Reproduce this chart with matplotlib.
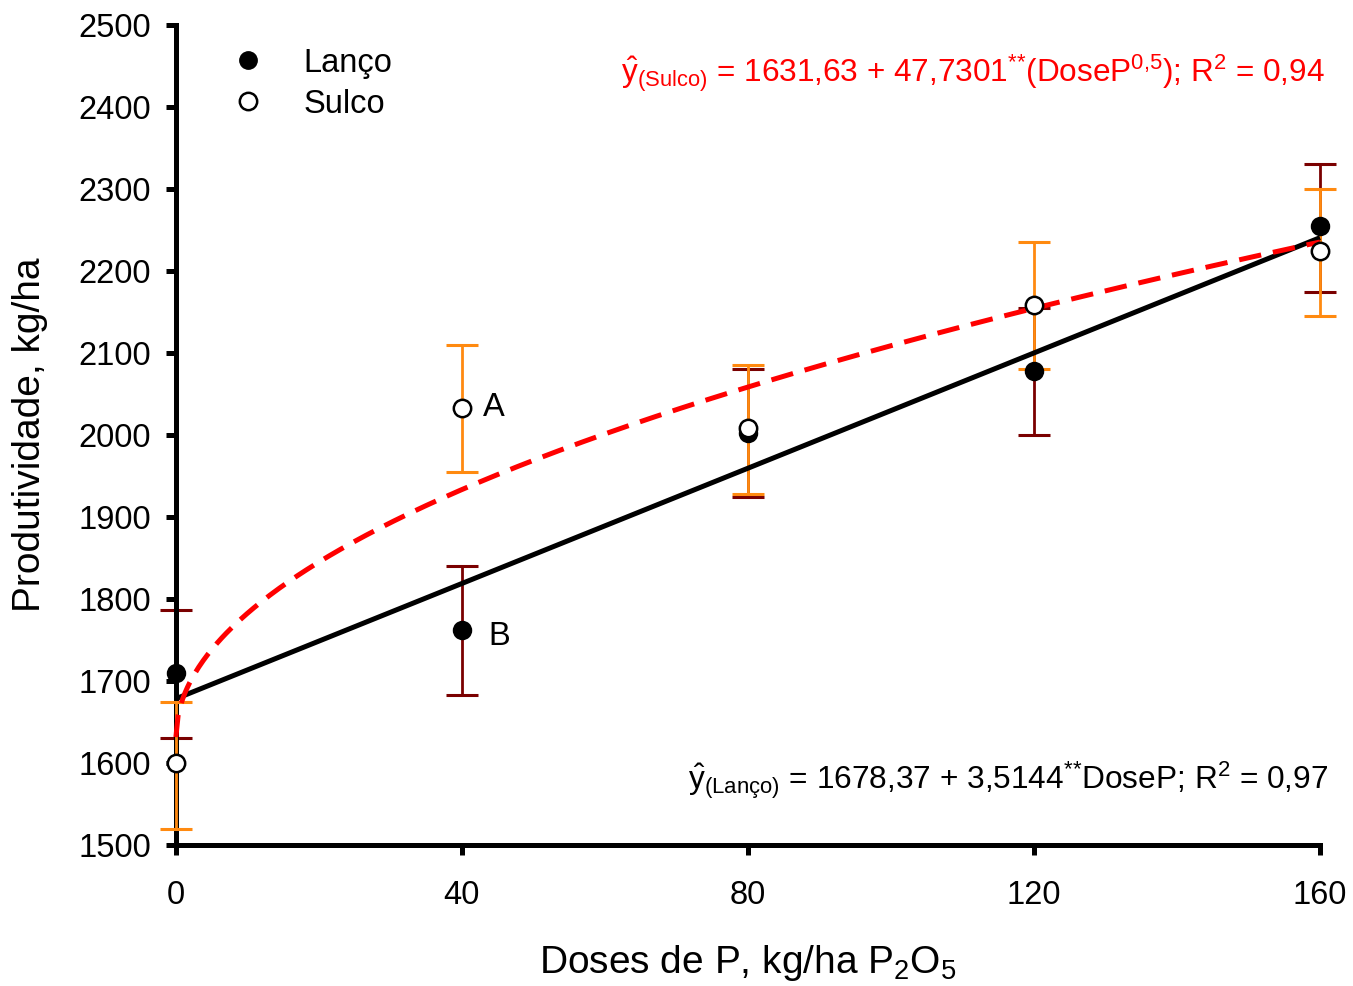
import numpy as np
import matplotlib
matplotlib.use("Agg")
import matplotlib.pyplot as plt
from matplotlib.lines import Line2D

plt.rcParams['font.family'] = ['Liberation Sans', 'DejaVu Sans']
plt.rcParams['mathtext.fontset'] = 'custom'
plt.rcParams['mathtext.rm'] = 'Liberation Sans'
plt.rcParams['mathtext.it'] = 'Liberation Sans:italic'
plt.rcParams['mathtext.bf'] = 'Liberation Sans:bold'

# data
doses = [0, 40, 80, 120, 160]
lanco = [1710, 1762, 2003, 2078, 2255]
lanco_lo = [1630, 1683, 1925, 2000, 2175]
lanco_hi = [1787, 1840, 2080, 2155, 2330]
sulco = [1600, 2033, 2008, 2158, 2225]
sulco_lo = [1520, 1955, 1928, 2080, 2145]
sulco_hi = [1675, 2110, 2085, 2235, 2300]

# regression coefficients printed on the chart
lanco_a, lanco_b = 1678.37, 3.5144
sulco_a, sulco_b = 1631.63, 47.7301

col_lanco_err = "#7a0000"
col_sulco_err = "#ff8a10"

fig = plt.figure(figsize=(13.53, 9.86), dpi=100)
ax = fig.add_axes([0.130, 0.143, 0.8456, 0.8316])

lanco_err = [np.array(lanco) - np.array(lanco_lo), np.array(lanco_hi) - np.array(lanco)]
sulco_err = [np.array(sulco) - np.array(sulco_lo), np.array(sulco_hi) - np.array(sulco)]

eb1 = ax.errorbar(doses, lanco, yerr=lanco_err, fmt='none', ecolor=col_lanco_err,
                  elinewidth=2, capsize=11.5, capthick=2.2, zorder=2)
eb2 = ax.errorbar(doses, sulco, yerr=sulco_err, fmt='none', ecolor=col_sulco_err,
                  elinewidth=2, capsize=11.5, capthick=2.2, zorder=3)
for eb in (eb1, eb2):
    for part in eb.lines[1] + eb.lines[2]:
        part.set_clip_on(False)

xs = np.linspace(0, 160, 500)
ax.plot(xs, lanco_a + lanco_b * xs, color='black', lw=3.6, zorder=4,
        solid_capstyle='butt', clip_on=False)
ax.plot(xs, sulco_a + sulco_b * np.sqrt(xs), color='red', lw=3.6, zorder=5,
        dashes=(4.5, 2.4), clip_on=False)

ax.plot(doses, lanco, 'o', ms=12.5, mfc='black', mec='black', mew=1.5, zorder=6, clip_on=False)
ax.plot(doses, sulco, 'o', ms=12.5, mfc='white', mec='black', mew=1.8, zorder=7, clip_on=False)

ax.set_xlim(0, 160)
ax.set_ylim(1500, 2500)
ax.set_xticks(doses)
ax.set_yticks(np.arange(1500, 2501, 100))

for s in ('top', 'right'):
    ax.spines[s].set_visible(False)
for s in ('left', 'bottom'):
    ax.spines[s].set_linewidth(3.6)
ax.tick_params(axis='both', direction='out', length=7, width=3.6, labelsize=23.5)
ax.tick_params(axis='y', pad=11)
ax.tick_params(axis='x', pad=18)

ax.set_xlabel('Doses de P, kg/ha P$_2$O$_5$', fontsize=28, labelpad=23)
ax.set_ylabel('Produtividade, kg/ha', fontsize=28, labelpad=22)

ax.text(44.5, 2034, 'A', fontsize=23.5, va='center', ha='center')
ax.text(45.2, 1754, 'B', fontsize=23.5, va='center', ha='center')

ax.text(1.004, 2441,
        r'$\hat{\mathrm{y}}_{\mathrm{(Sulco)}}$ = 1631,63 + 47,7301$^{{*}{*}}$(DoseP$^{0{,}5}$); R$^2$ = 0,94',
        transform=ax.get_yaxis_transform(), color='red', fontsize=22.7, ha='right', va='center')
ax.text(1.007, 1579,
        r'$\hat{\mathrm{y}}_{\mathrm{(Lanço)}}$ = 1678,37 + 3,5144$^{{*}{*}}$DoseP; R$^2$ = 0,97',
        transform=ax.get_yaxis_transform(), color='black', fontsize=22.8, ha='right', va='center')

handles = [Line2D([], [], ls='none', marker='o', ms=12.5, mfc='black', mec='black'),
           Line2D([], [], ls='none', marker='o', ms=12.5, mfc='white', mec='black', mew=1.8)]
ax.legend(handles, ['Lanço', 'Sulco'], loc='upper left', bbox_to_anchor=(0.016, 1.008),
          frameon=False, fontsize=23.5, handlelength=1.5, handletextpad=0.95, labelspacing=0.3)

fig.savefig('out.png', dpi=100)
